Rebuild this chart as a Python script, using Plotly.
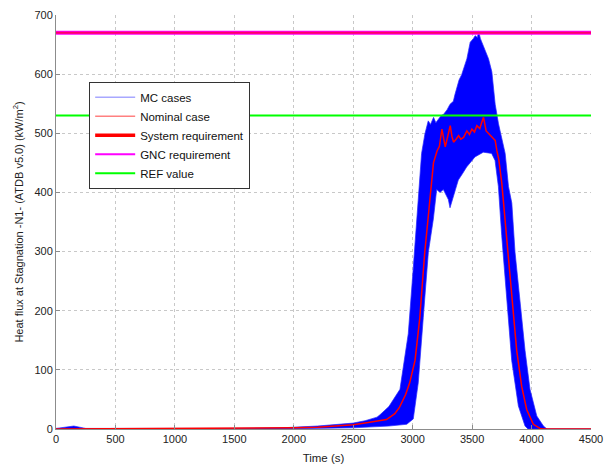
import plotly.graph_objects as go

# Nominal trajectory: heat flux at stagnation point (kW/m^2) vs time (s)
nominal_t = [0, 500, 1000, 1500, 2000, 2200, 2400, 2500, 2600, 2700, 2780, 2850, 2890,
             2940, 2975, 3020, 3060, 3100, 3140, 3175, 3205, 3225, 3246, 3262, 3274,
             3295, 3316, 3330, 3344, 3365, 3386, 3405, 3428, 3456, 3478, 3498, 3520,
             3540, 3565, 3580, 3596, 3618, 3652, 3694, 3708, 3725, 3750, 3770, 3791,
             3833, 3875, 3917, 3959, 4015, 4071, 4100, 4500]
nominal_q = [0, 0.5, 0.5, 1, 2, 3, 5, 7, 10, 13, 16, 26, 37,
             58, 78, 116, 188, 295, 375, 450, 470, 478, 507, 485, 477,
             495, 513, 495, 485, 490, 496, 490, 493, 504, 498, 507, 502,
             513, 508, 518, 527, 504, 496, 488, 471, 455, 415, 370, 310,
             216, 133, 72, 33, 8, 1, 0, 0]

# Monte Carlo dispersion envelope: upper bound of all cases
mc_upper_t = [0, 100, 150, 200, 250, 1500, 1900, 2200, 2500, 2600, 2700, 2725, 2800,
              2893, 2963, 3005, 3047, 3075, 3103, 3131, 3150, 3176, 3195, 3210, 3240,
              3260, 3290, 3314, 3342, 3355, 3370, 3390, 3412, 3435, 3456, 3470, 3484,
              3510, 3526, 3545, 3554, 3570, 3582, 3610, 3638, 3666, 3680, 3694, 3722,
              3750, 3778, 3806, 3834, 3861, 3903, 3945, 3987, 4044, 4100, 4130, 4500]
mc_upper_q = [1, 4, 5, 3, 1, 1, 2, 5, 10, 14, 20, 24, 38,
              67, 161, 272, 382, 466, 499, 521, 515, 527, 518, 522, 530,
              532, 540, 549, 554, 565, 577, 590, 599, 612, 626, 640, 654,
              660, 665, 662, 673, 660, 654, 637, 626, 604, 580, 549, 516,
              493, 466, 410, 382, 299, 216, 133, 67, 22, 5, 0, 0]

# Monte Carlo dispersion envelope: lower bound of all cases
mc_lower_t = [0, 1500, 2000, 2500, 2700, 2800, 2950, 3005, 3047, 3089, 3132, 3174,
              3202, 3230, 3258, 3280, 3300, 3314, 3325, 3342, 3360, 3384, 3420, 3454,
              3490, 3524, 3594, 3664, 3693, 3721, 3749, 3791, 3833, 3889, 3945, 3970, 4500]
mc_lower_q = [0, 0, 0.5, 2, 4, 5, 8, 17, 78, 188, 299, 355,
              405, 400, 405, 395, 388, 374, 380, 393, 405, 421, 432, 443,
              452, 460, 468, 466, 454, 410, 327, 216, 116, 39, 5, 0, 0]

# Requirement / reference thresholds
time_span = [0, 4500]
system_req = 670
gnc_req = 670
ref_value = 530

fig = go.Figure()

# Dispersion band (all MC cases)
fig.add_trace(go.Scatter(
    x=mc_upper_t + mc_lower_t[::-1],
    y=mc_upper_q + mc_lower_q[::-1],
    fill="toself", fillcolor="#0000ff",
    line=dict(color="rgba(40,40,255,0.7)", width=1),
    mode="lines", showlegend=False, hoverinfo="skip"))

# Nominal case
fig.add_trace(go.Scatter(x=nominal_t, y=nominal_q, mode="lines",
                         line=dict(color="#ff0000", width=1.5), showlegend=False))

# Threshold lines
fig.add_trace(go.Scatter(x=time_span, y=[ref_value] * 2, mode="lines",
                         line=dict(color="#00ff00", width=2), showlegend=False))
fig.add_trace(go.Scatter(x=time_span, y=[gnc_req] * 2, mode="lines",
                         line=dict(color="#ff00ff", width=4), showlegend=False))
fig.add_trace(go.Scatter(x=time_span, y=[system_req] * 2, mode="lines",
                         line=dict(color="#ff0000", width=2), opacity=0.6,
                         showlegend=False))

# Legend entries
legend_items = [
    ("MC cases", "#a8a8ff", 1.5),
    ("Nominal case", "#ff8080", 1.5),
    ("System requirement", "#ff0000", 3.5),
    ("GNC requirement", "#ff00ff", 2),
    ("REF value", "#00ff00", 2),
]
for name, color, width in legend_items:
    fig.add_trace(go.Scatter(x=[None], y=[None], mode="lines", name=name,
                             line=dict(color=color, width=width)))

axis_common = dict(
    showgrid=True, gridcolor="#c8c8c8", griddash="dot", gridwidth=1,
    showline=True, linecolor="#8c8c8c", linewidth=1,
    ticks="inside", ticklen=4, tickcolor="#8c8c8c",
    zeroline=False, tickfont=dict(size=11, color="#222"),
)

fig.update_layout(
    width=615, height=471,
    margin=dict(l=56, r=24, t=9, b=41),
    paper_bgcolor="white", plot_bgcolor="white",
    font=dict(family="Liberation Sans, Arial, sans-serif", size=11, color="#222"),
    xaxis=dict(range=[0, 4500], dtick=500, **axis_common,
               title=dict(text="Time (s)", standoff=9, font=dict(size=11.5))),
    yaxis=dict(range=[0, 700], dtick=100, **axis_common,
               title=dict(text="Heat flux at Stagnation -N1- (ATDB v5.0) (kW/m<sup>2</sup>)",
                          standoff=8, font=dict(size=11))),
    legend=dict(x=0.062, y=0.839, xanchor="left", yanchor="top",
                bgcolor="white", bordercolor="#333", borderwidth=1,
                font=dict(size=11.5, color="#111"), tracegroupgap=0,
                itemwidth=40),
    showlegend=True,
)

fig.write_html("out.html")
